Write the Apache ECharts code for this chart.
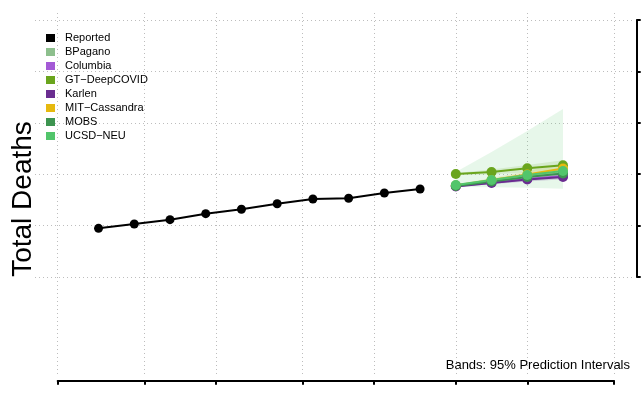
<!DOCTYPE html>
<html>
<head>
<meta charset="utf-8">
<script src="https://cdn.jsdelivr.net/npm/echarts@6/dist/echarts.min.js"></script>
<style>
  html, body { margin: 0; padding: 0; background: #fff; }
  #chart { width: 641px; height: 396px; }
</style>
</head>
<body>
<div id="chart"></div>
<script>
// reported weekly totals
var reportedDates = ['2020-07-23', '2020-07-30', '2020-08-06', '2020-08-13', '2020-08-20',
                     '2020-08-27', '2020-09-03', '2020-09-10', '2020-09-17', '2020-09-24'];
var reportedDeaths = [5947, 6031, 6115, 6232, 6317, 6426, 6518, 6531, 6634, 6712];

// forecast horizons
var forecastDates = ['2020-10-01', '2020-10-08', '2020-10-15', '2020-10-22'];

var bpaganoMid = [6780, 6868, 6955, 7033];
var bpaganoLo  = [6760, 6830, 6890, 6950];
var bpaganoHi  = [6800, 6910, 7020, 7120];

var columbiaMid = [6770, 6838, 6907, 6965];
var columbiaLo  = [6755, 6810, 6860, 6900];
var columbiaHi  = [6785, 6865, 6955, 7030];

var gtMid = [7004, 7043, 7115, 7173];
var gtLo  = [6985, 6995, 7040, 7070];
var gtHi  = [7025, 7090, 7180, 7270];

var karlenMid = [6761, 6829, 6897, 6946];
var karlenLo  = [6750, 6805, 6860, 6900];
var karlenHi  = [6775, 6855, 6935, 6990];

var mitMid = [6780, 6887, 6994, 7111];
var mitLo  = [6765, 6850, 6930, 7010];
var mitHi  = [6800, 6925, 7060, 7210];

var mobsMid = [6770, 6858, 6946, 7014];
var mobsLo  = [6750, 6815, 6880, 6930];
var mobsHi  = [6790, 6900, 7010, 7100];

var ucsdMid = [6790, 6887, 6984, 7062];
var ucsdLo  = [6751, 6745, 6735, 6715];
var ucsdHi  = [7043, 7432, 7840, 8268];

// axis ticks (no labels drawn)
var xTickDates = ['2020-07-15', '2020-08-01', '2020-08-15', '2020-09-01',
                  '2020-09-15', '2020-10-01', '2020-10-15', '2020-11-01'];
var yTicks = [5000, 6000, 7000, 8000, 9000, 10000];

var FONT = '"Liberation Sans", Arial, Helvetica, sans-serif';
var DAY = 86400000;
function day(s) {
  var p = s.split('-');
  return Date.UTC(+p[0], +p[1] - 1, +p[2]);
}

// layout (px)
var W = 641, H = 396;
var plotL = 35, plotR = 632, plotT = 13, plotB = 376;
var tick0Px = 57.7, dayPx = 5.104;
var yTopPx = 20, yBotPx = 277;

var t0 = day(xTickDates[0]);
var tEnd = day(xTickDates[xTickDates.length - 1]);
var xMin = t0 - (tick0Px - plotL) / dayPx * DAY;
var xMax = xMin + (plotR - plotL) / dayPx * DAY;
var tickEndPx = tick0Px + (tEnd - t0) / DAY * dayPx;

var yLo = yTicks[0], yHi = yTicks[yTicks.length - 1];
var unitPx = (yBotPx - yTopPx) / (yHi - yLo);
var yMin = yLo - (plotB - yBotPx) / unitPx;
var yMax = yHi + (yTopPx - plotT) / unitPx;

// every day between first and last tick, for the bottom axis
var dayCats = [];
for (var t = t0; t <= tEnd; t += DAY) dayCats.push(new Date(t).toISOString().slice(0, 10));
var tickSet = {};
xTickDates.forEach(function (d) { tickSet[d] = true; });
function onTick(i, v) { return !!tickSet[v]; }

var forecastSets = [
  { name: 'BPagano',        color: '#8dbf8d', mid: bpaganoMid,  lo: bpaganoLo,  hi: bpaganoHi },
  { name: 'Columbia',       color: '#a45ad6', mid: columbiaMid, lo: columbiaLo, hi: columbiaHi },
  { name: 'GT\u2212DeepCOVID', color: '#6aa51d', mid: gtMid,   lo: gtLo,       hi: gtHi },
  { name: 'Karlen',         color: '#6a2d90', mid: karlenMid,   lo: karlenLo,   hi: karlenHi },
  { name: 'MIT\u2212Cassandra', color: '#e6b90f', mid: mitMid,  lo: mitLo,      hi: mitHi },
  { name: 'MOBS',           color: '#3d9450', mid: mobsMid,     lo: mobsLo,     hi: mobsHi },
  { name: 'UCSD\u2212NEU',  color: '#52c56b', mid: ucsdMid,     lo: ucsdLo,     hi: ucsdHi }
];

var gridLine = { type: [1, 3], color: '#bdbdbd', width: 1 };

var series = [];

forecastSets.forEach(function (set) {
  var pts = forecastDates.map(function (d, i) { return [day(d), set.lo[i], set.hi[i]]; });
  series.push({
    type: 'custom',
    name: set.name + ' band',
    xAxisIndex: 0, yAxisIndex: 0,
    silent: true,
    z: 1,
    data: pts,
    encode: { x: 0, y: [1, 2] },
    renderItem: function (params, api) {
      if (params.dataIndex !== 0) return;
      var upper = pts.map(function (p) { return api.coord([p[0], p[2]]); });
      var lower = pts.map(function (p) { return api.coord([p[0], p[1]]); }).reverse();
      return {
        type: 'polygon',
        shape: { points: upper.concat(lower) },
        style: { fill: set.color, opacity: 0.14 }
      };
    }
  });
});

series.push({
  type: 'line',
  name: 'Reported',
  xAxisIndex: 0, yAxisIndex: 0,
  z: 4,
  data: reportedDates.map(function (d, i) { return [day(d), reportedDeaths[i]]; }),
  symbol: 'circle',
  symbolSize: 9,
  lineStyle: { color: '#000', width: 2 },
  itemStyle: { color: '#000' }
});

forecastSets.forEach(function (set) {
  series.push({
    type: 'line',
    name: set.name,
    xAxisIndex: 0, yAxisIndex: 0,
    z: 3,
    data: forecastDates.map(function (d, i) { return [day(d), set.mid[i]]; }),
    symbol: 'circle',
    symbolSize: 10,
    lineStyle: { color: set.color, width: 2 },
    itemStyle: { color: set.color }
  });
});

// empty series so the axis-only grids get laid out
series.push({ type: 'line', xAxisIndex: 1, yAxisIndex: 1, data: [], silent: true });
series.push({ type: 'line', xAxisIndex: 2, yAxisIndex: 2, data: [], silent: true });

var chart = echarts.init(document.getElementById('chart'), null, { renderer: 'canvas' });
chart.setOption({
  animation: false,
  backgroundColor: '#fff',
  textStyle: { fontFamily: FONT },
  grid: [
    { left: plotL, right: W - plotR, top: plotT, bottom: H - plotB },
    { left: tick0Px, right: W - tickEndPx, top: plotT, bottom: H - plotB },
    { left: plotL, right: W - plotR, top: yTopPx, bottom: H - yBotPx }
  ],
  xAxis: [
    { gridIndex: 0, type: 'time', min: xMin, max: xMax, show: false },
    {
      gridIndex: 1, type: 'category', data: dayCats, boundaryGap: false,
      position: 'bottom', offset: 4.7,
      axisLine: { show: true, onZero: false, lineStyle: { color: '#000', width: 2 } },
      axisTick: { show: true, interval: onTick, length: 4, lineStyle: { color: '#000', width: 2 } },
      axisLabel: { show: false },
      splitLine: { show: true, interval: onTick, lineStyle: gridLine }
    },
    { gridIndex: 2, type: 'value', min: 0, max: 1, show: false }
  ],
  yAxis: [
    { gridIndex: 0, type: 'value', min: yMin, max: yMax, show: false },
    { gridIndex: 1, type: 'value', min: 0, max: 1, show: false },
    {
      gridIndex: 2, type: 'value', position: 'right', offset: 4.7,
      min: yLo, max: yHi, interval: yTicks[1] - yTicks[0],
      axisLine: { show: true, onZero: false, lineStyle: { color: '#000', width: 2 } },
      axisTick: { show: true, length: 4, lineStyle: { color: '#000', width: 2 } },
      axisLabel: { show: false },
      splitLine: { show: true, lineStyle: gridLine }
    }
  ],
  legend: {
    orient: 'vertical',
    left: 41,
    top: 27,
    icon: 'rect',
    itemWidth: 9,
    itemHeight: 8,
    itemGap: 2,
    selectedMode: false,
    data: ['Reported'].concat(forecastSets.map(function (s) { return s.name; })),
    textStyle: { fontFamily: FONT, fontSize: 11, lineHeight: 12, color: '#000', padding: [0, 0, 0, 5] }
  },
  graphic: [
    {
      type: 'text', x: 23.5, y: 199, rotation: Math.PI / 2,
      style: { text: 'Total Deaths', font: '28px ' + FONT, fill: '#000', align: 'center', verticalAlign: 'middle' }
    },
    {
      type: 'text', x: 630, y: 365,
      style: { text: 'Bands: 95% Prediction Intervals', font: '13px ' + FONT, fill: '#000', align: 'right', verticalAlign: 'middle' }
    }
  ],
  series: series
});
window.addEventListener('resize', function () { chart.resize(); });
</script>
</body>
</html>
